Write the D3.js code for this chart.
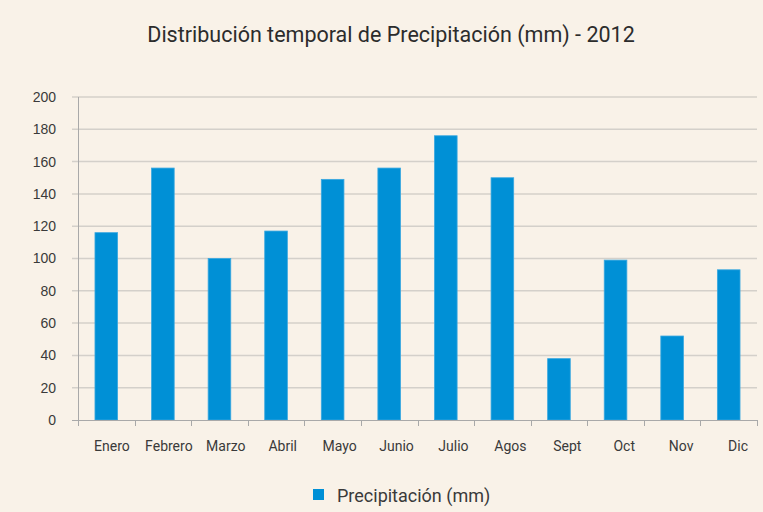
<!DOCTYPE html>
<html>
<head>
<meta charset="utf-8">
<script src="https://cdn.jsdelivr.net/npm/d3@7"></script>
<style>
  body { margin: 0; background: #f9f2e8; }
  svg { display: block; font-family: Roboto, "Liberation Sans", sans-serif; }
  .grid line { stroke: #d4d0ca; stroke-width: 1.5; }
  .axis path, .axis line { stroke: #a9a9a9; }
  .axis text { fill: #3a3a3a; font-size: 14px; }
</style>
</head>
<body>
<div id="chart"></div>
<script>
// datos de precipitacion mensual 2012
var months = ["Enero", "Febrero", "Marzo", "Abril", "Mayo", "Junio",
              "Julio", "Agos", "Sept", "Oct", "Nov", "Dic"];
var precip = [116, 156, 100, 117, 149, 156, 176, 150, 38, 99, 52, 93];
var yTicks = [0, 20, 40, 60, 80, 100, 120, 140, 160, 180, 200];

var width = 763, height = 512;
var margin = {top: 97, right: 6, bottom: 92, left: 78};
var innerW = width - margin.left - margin.right;
var innerH = height - margin.top - margin.bottom;

var svg = d3.select("#chart").append("svg")
    .attr("width", width)
    .attr("height", height);

svg.append("rect")
    .attr("width", width)
    .attr("height", height)
    .attr("fill", "#f9f2e8");

svg.append("text")
    .attr("x", 391)
    .attr("y", 42)
    .attr("text-anchor", "middle")
    .attr("fill", "#2c2c2c")
    .style("font-size", "21.5px")
    .text("Distribución temporal de Precipitación (mm) - 2012");

var g = svg.append("g")
    .attr("transform", "translate(" + margin.left + "," + margin.top + ")");

var x = d3.scaleBand()
    .domain(months)
    .range([0, innerW])
    .paddingInner(0.6)
    .paddingOuter(0.3);

// las etiquetas del original estan algo corridas a la derecha
var xLabel = d3.scaleBand()
    .domain(months)
    .range([5.5, innerW + 9.5]);

var y = d3.scaleLinear()
    .domain([0, 200])
    .range([innerH, 0]);

// lineas de grilla
g.append("g")
    .attr("class", "grid")
    .selectAll("line")
    .data(yTicks.slice(1))
    .enter().append("line")
    .attr("x1", -6)
    .attr("x2", innerW)
    .attr("y1", function(d) { return y(d); })
    .attr("y2", function(d) { return y(d); });

// barras
g.selectAll("rect.bar")
    .data(precip)
    .enter().append("rect")
    .attr("class", "bar")
    .attr("x", function(d, i) { return x(months[i]); })
    .attr("width", x.bandwidth())
    .attr("y", function(d) { return y(d); })
    .attr("height", function(d) { return innerH - y(d); })
    .attr("fill", "#0090d6")
    .attr("stroke", "#3aa8e0")
    .attr("stroke-width", 0.8);

// eje y
var yAxis = g.append("g")
    .attr("class", "axis")
    .call(d3.axisLeft(y).tickValues(yTicks).tickSize(0).tickPadding(22));
yAxis.select(".domain").remove();
yAxis.append("line")
    .attr("x1", 0.5).attr("x2", 0.5)
    .attr("y1", 0).attr("y2", innerH + 6);
yAxis.append("line")
    .attr("x1", -6).attr("x2", 0)
    .attr("y1", innerH + 0.5).attr("y2", innerH + 0.5);

// eje x con marcas entre categorias
var xAxis = g.append("g")
    .attr("class", "axis")
    .attr("transform", "translate(0," + innerH + ")");
xAxis.append("line")
    .attr("x1", 0).attr("x2", innerW)
    .attr("y1", 0.5).attr("y2", 0.5);
xAxis.selectAll("line.tick")
    .data(d3.range(1, months.length + 1))
    .enter().append("line")
    .attr("class", "tick")
    .attr("x1", function(d) { return Math.round(d * innerW / months.length) + 0.5; })
    .attr("x2", function(d) { return Math.round(d * innerW / months.length) + 0.5; })
    .attr("y1", 0).attr("y2", 6);
xAxis.selectAll("text")
    .data(months)
    .enter().append("text")
    .attr("x", function(d) { return xLabel(d) + xLabel.bandwidth() / 2; })
    .attr("y", 31)
    .attr("text-anchor", "middle")
    .text(function(d) { return d; });

// leyenda
var legend = svg.append("g")
    .attr("transform", "translate(313,489)");
legend.append("rect")
    .attr("width", 11).attr("height", 11)
    .attr("fill", "#0090d6");
legend.append("text")
    .attr("x", 24).attr("y", 12.5)
    .attr("fill", "#3a3a3a")
    .style("font-size", "18px")
    .text("Precipitación (mm)");
</script>
</body>
</html>
